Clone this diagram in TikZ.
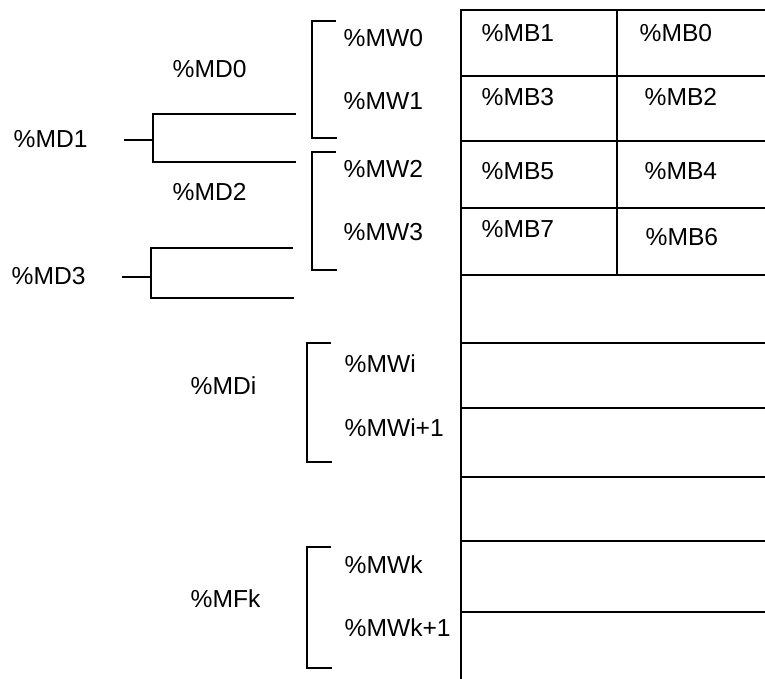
\documentclass[tikz,border=0pt]{standalone}
\usepackage{fontspec}
\setmainfont{Liberation Sans}
\usetikzlibrary{positioning}

\begin{document}
\begin{tikzpicture}[x=0.02cm,y=-0.02cm,line width=0.8pt,
    lbl/.style={anchor=west,inner sep=0pt,font=\fontsize{14}{16}\selectfont}]
    \useasboundingbox (0,0) rectangle (765,679);
    % memory table
    \draw (461,679)--(461,10)--(765,10);
    \foreach \y in {76,141,343,408,477,541,612}
    {
        \draw (461,\y)--(765,\y);
    }
    \draw[line width=1.1pt] (461,208)--(765,208) (461,275)--(765,275);
    \draw (617,10)--(617,275);
    \node[lbl] (mb1) at (481,33) {\%MB1};
    \node[lbl] (mb0) at (639,33) {\%MB0};
    \node[lbl] (mb3) at (481,97) {\%MB3};
    \node[lbl] (mb2) at (644,97) {\%MB2};
    \node[lbl] (mb5) at (481,171) {\%MB5};
    \node[lbl] (mb4) at (644,171) {\%MB4};
    \node[lbl] (mb7) at (481,229) {\%MB7};
    \node[lbl] (mb6) at (645,237) {\%MB6};
    % words
    \node[lbl] (mw0) at (343,38) {\%MW0};
    \node[lbl] (mw1) at (343,101) {\%MW1};
    \node[lbl] (mw2) at (343,169) {\%MW2};
    \node[lbl] (mw3) at (343,232) {\%MW3};
    \node[lbl] (mwi) at (344,364) {\%MWi};
    \node[lbl] (mwj) at (344,428) {\%MWi+1};
    \node[lbl] (mwk) at (344,565) {\%MWk};
    \node[lbl] (mwl) at (344,628) {\%MWk+1};
    \foreach \xa/\ya/\yb in {312/21/138,312/152/270,307/343/462,307/547/668}
    {
        \draw (\xa+24,\ya)-|(\xa,\yb)--(\xa+25,\yb);
    }
    % double words
    \node[lbl] (md0) at (172,69) {\%MD0};
    \node[lbl] (md2) at (172,192) {\%MD2};
    \node[lbl] (md1) at (13,139) {\%MD1};
    \node[lbl] (md3) at (11,276) {\%MD3};
    \node[lbl] (mdi) at (190,386) {\%MDi};
    \node[lbl] (mfk) at (190,599) {\%MFk};
    \coordinate (c1) at (124,140);
    \coordinate (c3) at (122,277);
    \draw (296,114)-|(153,162)--(296,162);
    \draw (c1)--(153,140);
    \draw (293,248)-|(151,298)--(294,298);
    \draw (c3)--(151,277);
\end{tikzpicture}
\end{document}
